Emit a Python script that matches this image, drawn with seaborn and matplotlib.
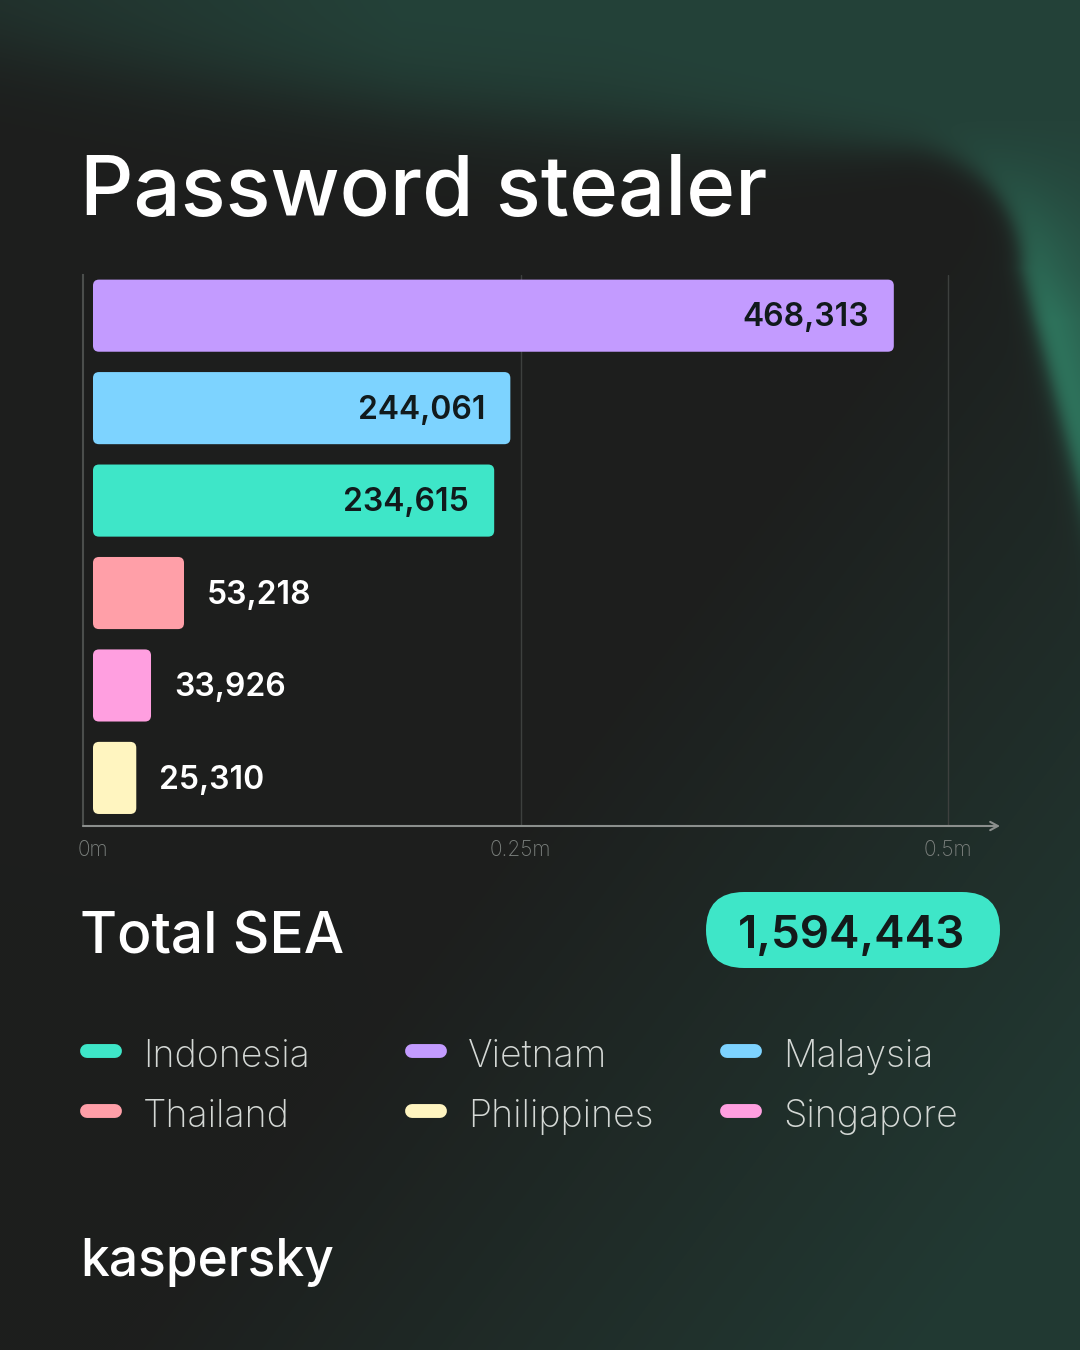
import numpy as np
import pandas as pd
import matplotlib
matplotlib.use("Agg")
import matplotlib.pyplot as plt
import seaborn as sns
from matplotlib.patches import FancyBboxPatch

# datos del grafico
countries = ["Vietnam", "Malaysia", "Indonesia", "Thailand", "Singapore", "Philippines"]
values = [468313, 244061, 234615, 53218, 33926, 25310]
colors = ["#c39bff", "#7dd3ff", "#3ee6c8", "#ff9fa8", "#ff9fe0", "#fff5c0"]
tick_vals = [0, 250000, 500000]
tick_labels = ["0m", "0.25m", "0.5m"]
total_label = "Total SEA"
total_value = 1594443
legend_order = ["Indonesia", "Vietnam", "Malaysia", "Thailand", "Philippines", "Singapore"]

df = pd.DataFrame({"country": countries, "value": values})
palette = dict(zip(countries, colors))

sns.set_style("dark")
plt.rcParams["font.family"] = ["Inter", "DejaVu Sans"]

W, H = 1080, 1350
fig = plt.figure(figsize=(W / 100, H / 100), dpi=100)

# -----------------------------------------------------------
# fondo: verde con forma oscura redondeada
# -----------------------------------------------------------
yy, xx = np.mgrid[0:H:2, 0:W:2].astype(float)
green = np.array([0x24, 0x42, 0x39]) / 255
green_hi = np.array([0x31, 0x84, 0x68]) / 255
green_low = np.array([0x23, 0x40, 0x38]) / 255
dark = np.array([0x1d, 0x1e, 0x1d]) / 255
dark_tl = np.array([0x21, 0x2e, 0x2a]) / 255

u = xx - 0.264 * np.clip(yy - 267, 0, None)
ytop = 48 + 0.17 * u - 0.00007 * u ** 2
r = 120
qx = (u - 1022) + r
qy = (ytop - yy) + r
sdf = np.sqrt(np.clip(qx, 0, None) ** 2 + np.clip(qy, 0, None) ** 2) + np.minimum(np.maximum(qx, qy), 0) - r
blur = 24 - 18 * np.clip((xx - 600) / 400, 0, 1)
m = 1 / (1 + np.exp(sdf / blur))

g = np.clip((0.8 * xx + 0.6 * yy - 900) / 800, 0, 0.8)[..., None]
inside = dark * (1 - g) + green_low * g
t = np.clip((xx + 150) / 550, 0, 1)[..., None]
outside = dark_tl * (1 - t) + green * t
hi = (np.exp(-np.clip(sdf, 0, None) / 70) * np.clip((xx - 650) / 380, 0, 1)
      * np.clip((yy - 120) / 200, 0, 1))[..., None]
outside = outside * (1 - hi) + green_hi * hi
img = inside * m[..., None] + outside * (1 - m[..., None])

ax_bg = fig.add_axes([0, 0, 1, 1], zorder=-1)
ax_bg.imshow(img, extent=(0, W, H, 0), interpolation="bilinear", aspect="auto")
ax_bg.set_xlim(0, W)
ax_bg.set_ylim(H, 0)
ax_bg.axis("off")

# -----------------------------------------------------------
# barras
# -----------------------------------------------------------
px_per_unit = 0.00171
x_left = -10 / px_per_unit
x_right = (1000 - 93) / px_per_unit
ax = fig.add_axes([83 / W, 1 - 826 / H, (1000 - 83) / W, (826 - 275) / H])
ax.set_facecolor("none")

sns.barplot(data=df, x="value", y="country", hue="country", palette=palette,
            orient="h", width=0.78, saturation=1, legend=False, ax=ax)

ax.set_xlim(x_left, x_right)
ax.set_ylim(5.52, -0.44)

# esquinas redondeadas
rx = 6 / px_per_unit
aspect = (6 / 92.5) / rx
for p in list(ax.patches):
    x0, y0, w, h = p.get_x(), p.get_y(), p.get_width(), p.get_height()
    fc = p.get_facecolor()
    p.remove()
    ax.add_patch(FancyBboxPatch((x0, y0), w, h, boxstyle=f"round,pad=0,rounding_size={rx}",
                                mutation_aspect=aspect, fc=fc, ec="none", zorder=3))

for i, v in enumerate(values):
    lab = f"{v:,}"
    if v > 100000:
        ax.annotate(lab, xy=(v, i), xytext=(-18, -1.5), textcoords="offset points",
                    ha="right", va="center", fontsize=23, fontweight="semibold",
                    color="#111a1c", zorder=4)
    else:
        ax.annotate(lab, xy=(v, i), xytext=(16.5, -1.5), textcoords="offset points",
                    ha="left", va="center", fontsize=23, fontweight="semibold",
                    color="white", zorder=4)

for tv in tick_vals[1:]:
    ax.axvline(tv, color="#3d403e", lw=1, zorder=1)
ax.grid(False)
ax.set_xticks(tick_vals)
ax.set_xticklabels(tick_labels, fontsize=15, color="#7b807d", fontweight="light")
ax.tick_params(axis="x", length=0, pad=10)
ax.tick_params(axis="y", left=False, labelleft=False)
ax.set_xlabel("")
ax.set_ylabel("")
for s in ["top", "right", "bottom"]:
    ax.spines[s].set_visible(False)
ax.spines["left"].set_color("#4b4e4c")
ax.spines["left"].set_linewidth(1.5)
ax.annotate("", xy=(1, 0), xytext=(0, 0), xycoords="axes fraction",
            arrowprops=dict(arrowstyle="->,head_length=0.55,head_width=0.3",
                            color="#8b8f8d", lw=1.5, shrinkA=0, shrinkB=0))

# -----------------------------------------------------------
# textos, total y leyenda
# -----------------------------------------------------------
ax_bg.text(80, 215, "Password stealer", fontsize=60, fontweight="medium",
           color="white", va="baseline", ha="left")
ax_bg.text(80, 953, total_label, fontsize=41, fontweight="medium",
           color="white", va="baseline", ha="left")
ax_bg.add_patch(FancyBboxPatch((706, 892), 294, 76, boxstyle="round,pad=0,rounding_size=38",
                               fc="#3ee6c8", ec="none"))
ax_bg.text(852, 948, f"{total_value:,}", fontsize=33, fontweight="semibold",
           color="#131a1a", va="baseline", ha="center")

col_x = [80, 405, 720]
row_y = [1051, 1111]
for k, name in enumerate(legend_order):
    cx = col_x[k % 3]
    cy = row_y[k // 3]
    ax_bg.plot([cx + 7, cx + 35], [cy, cy], color=palette[name], lw=10,
               solid_capstyle="round")
    ax_bg.text(cx + 63, cy + 16, name, fontsize=27, fontweight="light",
               color="#d4d8d5", va="baseline", ha="left")

ax_bg.text(80, 1276, "kaspersky", fontsize=37, fontweight="medium",
           color="white", va="baseline", ha="left")

fig.savefig("out.png", dpi=100)
